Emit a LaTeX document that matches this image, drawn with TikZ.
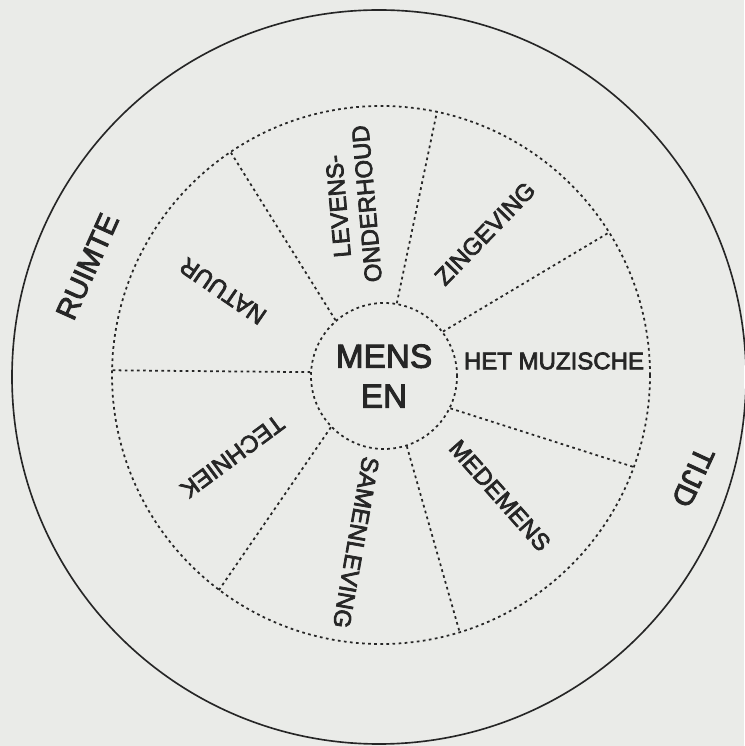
\documentclass[tikz,border=0pt]{standalone}
\usepackage{fontspec}
\setmainfont{Liberation Sans}[RawFeature={embolden=3}]
\usepackage{tikz}
\definecolor{papier}{RGB}{234,235,232}
\definecolor{inkt}{RGB}{38,38,38}

\begin{document}
\begin{tikzpicture}[inkt,
		sector/.style={font=\fontsize{20.5}{24.6}\selectfont, inner sep=0pt},
		dimension/.style={font=\fontsize{25}{30}\selectfont, inner sep=0pt},
		dots/.style={line width=1.5pt, dash pattern=on 2.3pt off 2.9pt},
		hub/.style={circle, draw, dots, minimum size=4.38cm, inner sep=0pt, align=center, font=\fontsize{28.5}{34}\selectfont}]
		% 背景与边界
		\fill[papier] (-11.43,-11.13) rectangle (10.89,11.25);
		\useasboundingbox (-11.43,-11.13) rectangle (10.89,11.25);
		
		% 外圆
		\draw[line width=1.4pt] (-0.06,-0.06) circle[radius=11.01];
		
		% 虚线圆与中心圆
		\node[circle, draw, dots, minimum size=16.14cm, inner sep=0pt] (ring) at (0,0) {};
		\node[hub] (mens) at (0.09,-0.03) {MENS\\EN};
		
		% 分隔线
		\draw[dots] (mens.177) -- (ring.179);
		\draw[dots] (mens.131) -- (ring.124);
		\draw[dots] (mens.80) -- (ring.78);
		\draw[dots] (mens.37) -- (ring.32);
		\draw[dots] (mens.-26) -- (ring.-20);
		\draw[dots] (mens.-72) -- (ring.-73);
		\draw[dots] (mens.224) -- (ring.233);
		
		% 各扇区文字
		\node[sector, rotate=145.6] (natuur) at (-4.74,2.52) {NATUUR};
		\node[sector, rotate=95, align=center] (levens) at (-0.855,5.1) {LEVENS-\\ONDERHOUD};
		\node[sector, rotate=46] (zingeving) at (3.12,4.245) {ZINGEVING};
		\node[sector] (muzisch) at (5.19,0.42) {HET MUZISCHE};
		\node[sector, rotate=-48.5] (medemens) at (3.57,-3.615) {MEDEMENS};
		\node[sector, rotate=-100] (samenleving) at (-0.75,-5.025) {SAMENLEVING};
		\node[sector, rotate=216.5] (techniek) at (-4.455,-2.445) {TECHNIEK};
		
		% 外环文字
		\node[dimension, rotate=65.8] (ruimte) at (-8.805,3.255) {RUIMTE};
		\node[dimension, rotate=-114.7] (tijd) at (9.36,-3.06) {TIJD};
	\end{tikzpicture}
\end{document}
